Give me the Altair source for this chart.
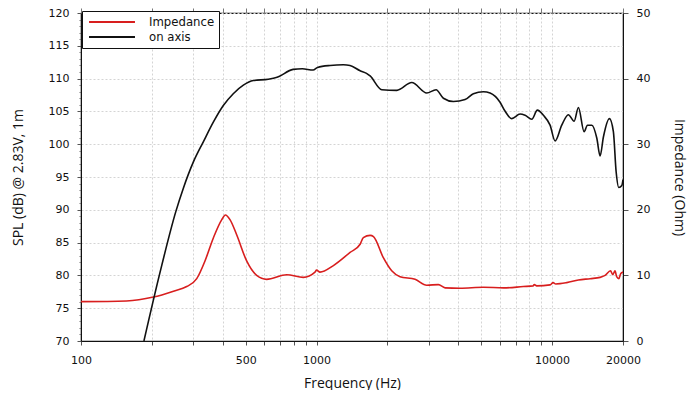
import altair as alt
import pandas as pd

# ---- data ----
spl_freq = [185, 216, 253, 272, 300, 331, 365, 402, 443, 489, 539, 624, 680, 795, 870, 967, 1010,
            1141, 1300, 1387, 1531, 1630, 1688, 1892, 2191, 2536, 2937, 3217, 3455, 3810, 4272,
            4632, 5108, 5454, 6013, 6300, 6743, 7313, 7679, 8200, 8660, 9186, 9806, 10297, 10990,
            11723, 12400, 12935, 13675, 14125, 14746, 15487, 15989, 16513, 17514, 18205, 18701,
            19200, 19770, 20000]
spl_db = [70.0, 80.3, 89.8, 93.3, 97.3, 100.4, 103.4, 105.9, 107.7, 109.0, 109.7, 109.9, 110.2,
          111.4, 111.5, 111.3, 111.7, 112.0, 112.1, 112.0, 111.2, 110.8, 110.4, 108.3, 108.2,
          109.4, 107.8, 108.3, 107.0, 106.5, 106.8, 107.7, 108.0, 107.8, 106.4, 105.1, 103.9,
          104.6, 104.4, 103.8, 105.2, 104.4, 102.9, 100.5, 102.9, 104.5, 103.5, 105.6, 101.9,
          102.9, 102.9, 100.9, 98.2, 101.1, 103.9, 101.9, 95.8, 93.4, 93.7, 94.6]

imp_freq = [100, 156, 203, 247, 281, 310, 336, 365, 396, 410, 429, 458, 505, 557, 614, 747, 879,
            985, 1000, 1034, 1179, 1388, 1531, 1580, 1688, 1745, 1921, 2085, 2262, 2620, 2937,
            3290, 3513, 4066, 5108, 6213, 7550, 8300, 8400, 8600, 9806, 10100, 10370, 11545,
            12935, 14500, 15989, 16790, 17700, 18100, 18500, 18800, 19200, 19570, 20000]
imp_ohm = [6.0, 6.1, 6.7, 7.6, 8.3, 9.5, 12.2, 15.75, 18.5, 19.2, 18.5, 16.2, 12.2, 10.0, 9.4,
           10.1, 9.7, 10.5, 10.8, 10.5, 11.5, 13.5, 14.75, 15.75, 16.1, 15.9, 12.7, 10.7, 9.8,
           9.4, 8.5, 8.6, 8.1, 8.05, 8.2, 8.1, 8.3, 8.4, 8.6, 8.4, 8.55, 8.9, 8.7, 8.9, 9.3,
           9.5, 9.7, 10.0, 10.7, 10.1, 10.7, 9.8, 9.5, 10.3, 10.5]

series_names = ["Impedance", "on axis"]
series_colors = ["#d81e1e", "#111111"]

x_grid = [100, 200, 300, 400, 500, 600, 700, 800, 900, 1000, 2000, 3000, 4000, 5000, 6000,
          7000, 8000, 9000, 10000, 20000]
x_labels = [100, 500, 1000, 10000, 20000]
spl_ticks = [70, 75, 80, 85, 90, 95, 100, 105, 110, 115, 120]
spl_minor = list(range(70, 121))
imp_ticks = [0, 10, 20, 30, 40, 50]

spl_df = pd.DataFrame({"f": spl_freq, "v": spl_db, "series": "on axis"})
imp_df = pd.DataFrame({"f": imp_freq, "v": imp_ohm, "series": "Impedance"})

label_font = "DejaVu Sans"
title_font = "Open Sans"
legend_font = "'DejaVu Sans Condensed', 'Liberation Sans Narrow', Lato"

xscale = alt.Scale(type="log", domain=[100, 20000], nice=False)
color = alt.Color("series:N",
                  scale=alt.Scale(domain=series_names, range=series_colors),
                  legend=alt.Legend(title=None, orient="none", legendX=1, legendY=-2,
                                    direction="vertical",
                                    symbolType="M-4,0H4", symbolSize=132, symbolStrokeWidth=2,
                                    symbolOffset=19,
                                    labelFont=legend_font, labelFontSize=13,
                                    labelColor="#111", labelOffset=30,
                                    strokeColor="#111", fillColor="white", padding=4,
                                    rowPadding=1, cornerRadius=0))

label_expr = "indexof([" + ",".join(str(v) for v in x_labels) + "], datum.value) >= 0 ? format(datum.value, 'd') : ''"

spl = alt.Chart(spl_df).mark_line(strokeWidth=1.6, interpolate="monotone", clip=True).encode(
    x=alt.X("f:Q", scale=xscale,
            axis=alt.Axis(values=x_grid, labelExpr=label_expr, title="Frequency (Hz)",
                          grid=True, gridColor="#d4d4d4", gridDash=[2, 2],
                          labelOverlap=False, labelFlush=False, labelFont=label_font,
                          labelFontSize=11, labelColor="#111", labelPadding=9,
                          tickSize=4, tickColor="#555", domainColor="#111",
                          titleFont=title_font, titleFontSize=14, titleFontWeight="normal",
                          titleColor="#111", titlePadding=11)),
    y=alt.Y("v:Q", scale=alt.Scale(domain=[70, 120], nice=False),
            axis=alt.Axis(values=spl_ticks, title="SPL (dB) @ 2.83V, 1m", grid=True,
                          gridColor="#d4d4d4", gridDash=[2, 2], labelFont=label_font,
                          labelFontSize=11, labelColor="#111", labelPadding=8, tickSize=4,
                          tickColor="#555", domainColor="#111", titleFont=title_font,
                          titleFontSize=14, titleFontWeight="normal", titleColor="#111",
                          titlePadding=23)),
    color=color,
)

# minor ticks on the SPL axis (invisible duplicate of the SPL line)
spl_minor_layer = alt.Chart(spl_df).mark_line(opacity=0).encode(
    x=alt.X("f:Q", scale=xscale, axis=None),
    y=alt.Y("v:Q", scale=alt.Scale(domain=[70, 120], nice=False),
            axis=alt.Axis(values=spl_minor, labels=False, title=None, grid=False, domain=False,
                          tickSize=2, tickColor="#777")),
)

imp = alt.Chart(imp_df).mark_line(strokeWidth=1.6, interpolate="monotone", clip=True).encode(
    x=alt.X("f:Q", scale=xscale,
            axis=alt.Axis(orient="top", values=x_grid, labels=False, title=None, grid=False,
                          domain=False, tickSize=5, tickColor="#777")),
    y=alt.Y("v:Q", scale=alt.Scale(domain=[0, 50], nice=False),
            axis=alt.Axis(orient="right", values=imp_ticks, title="Impedance (Ohm)", grid=False,
                          labelFont=label_font, labelFontSize=11, labelColor="#111",
                          labelPadding=8, tickSize=5, tickColor="#555", domainColor="#111",
                          titleFont=title_font, titleFontSize=14, titleFontWeight="normal",
                          titleColor="#111", titlePadding=22)),
    color=color,
)

chart = alt.layer(spl_minor_layer, imp, spl).resolve_scale(y="independent").resolve_axis(
    x="independent").properties(
    width=542, height=328,
    autosize=alt.AutoSizeParams(type="none"),
    padding={"left": 73, "top": 5, "right": 69, "bottom": 49},
).configure_view(stroke="#111", strokeWidth=1.2)

chart.save("out.html", embed_options={"renderer": "svg", "actions": False})
